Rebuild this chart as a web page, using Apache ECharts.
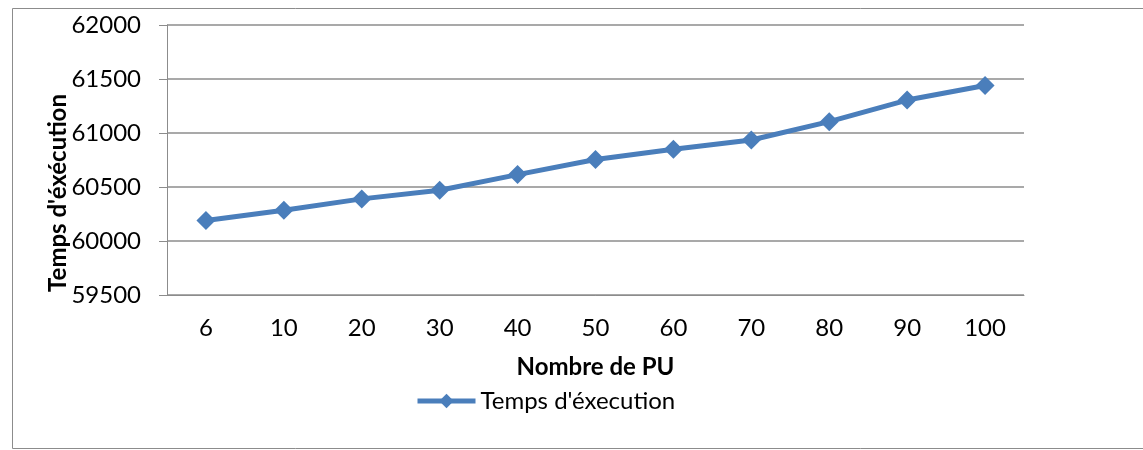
<!DOCTYPE html>
<html>
<head>
<meta charset="utf-8">
<script src="https://cdn.jsdelivr.net/npm/echarts@6/dist/echarts.min.js"></script>
<style>
html,body{margin:0;padding:0;background:#fff;}
#c{width:1143px;height:450px;}
</style>
</head>
<body>
<div id="c"></div>
<script>
const categories = ['6','10','20','30','40','50','60','70','80','90','100'];
const execTime = [60190, 60285, 60390, 60470, 60615, 60755, 60850, 60935, 61105, 61305, 61440];
const seriesName = "Temps d'éxecution";
const xTitle = 'Nombre de PU';
const yTitle = "Temps d'éxécution";

const FONT = 'Lato, "Open Sans", sans-serif';
const chart = echarts.init(document.getElementById('c'), null, {renderer: 'canvas'});
chart.setOption({
  animation: false,
  backgroundColor: '#fff',
  graphic: [{
    type: 'rect', left: 10, top: 6,
    shape: {width: 1131, height: 440},
    style: {fill: 'none', stroke: '#8c8c8c', lineWidth: 1}
  }, {
    type: 'text',
    x: 58, y: 193,
    rotation: Math.PI / 2,
    style: {
      text: yTitle, fill: '#000',
      font: 'bold 24px ' + FONT,
      align: 'center', verticalAlign: 'middle'
    }
  }],
  grid: {left: 167, right: 119, top: 25, bottom: 155},
  legend: {
    data: [seriesName],
    left: 410, top: 384,
    itemWidth: 58, itemHeight: 18, itemGap: 4,
    lineStyle: {width: 5},
    textStyle: {fontFamily: FONT, fontSize: 24, color: '#000'}
  },
  xAxis: {
    type: 'category',
    data: categories,
    boundaryGap: true,
    name: xTitle,
    nameLocation: 'middle',
    nameGap: 60,
    nameTextStyle: {fontFamily: FONT, fontSize: 24, fontWeight: 'bold', color: '#000'},
    axisLine: {show: true, lineStyle: {color: '#8c8c8c', width: 1}},
    axisTick: {show: false},
    axisLabel: {fontFamily: FONT, fontSize: 24, color: '#000', margin: 21}
  },
  yAxis: {
    type: 'value',
    min: 59500, max: 62000, interval: 500,
    axisLine: {show: true, lineStyle: {color: '#8c8c8c', width: 1}},
    axisTick: {show: true, length: 8, lineStyle: {color: '#8c8c8c'}},
    splitLine: {show: true, lineStyle: {color: '#8c8c8c', width: 1.5}},
    axisLabel: {fontFamily: FONT, fontSize: 24, color: '#000', margin: 26, formatter: v => String(v)}
  },
  series: [{
    name: seriesName,
    type: 'line',
    data: execTime,
    symbol: 'diamond',
    symbolSize: 19,
    lineStyle: {color: '#4a7ebb', width: 5},
    itemStyle: {color: '#4a7ebb'}
  }]
});
</script>
</body>
</html>
